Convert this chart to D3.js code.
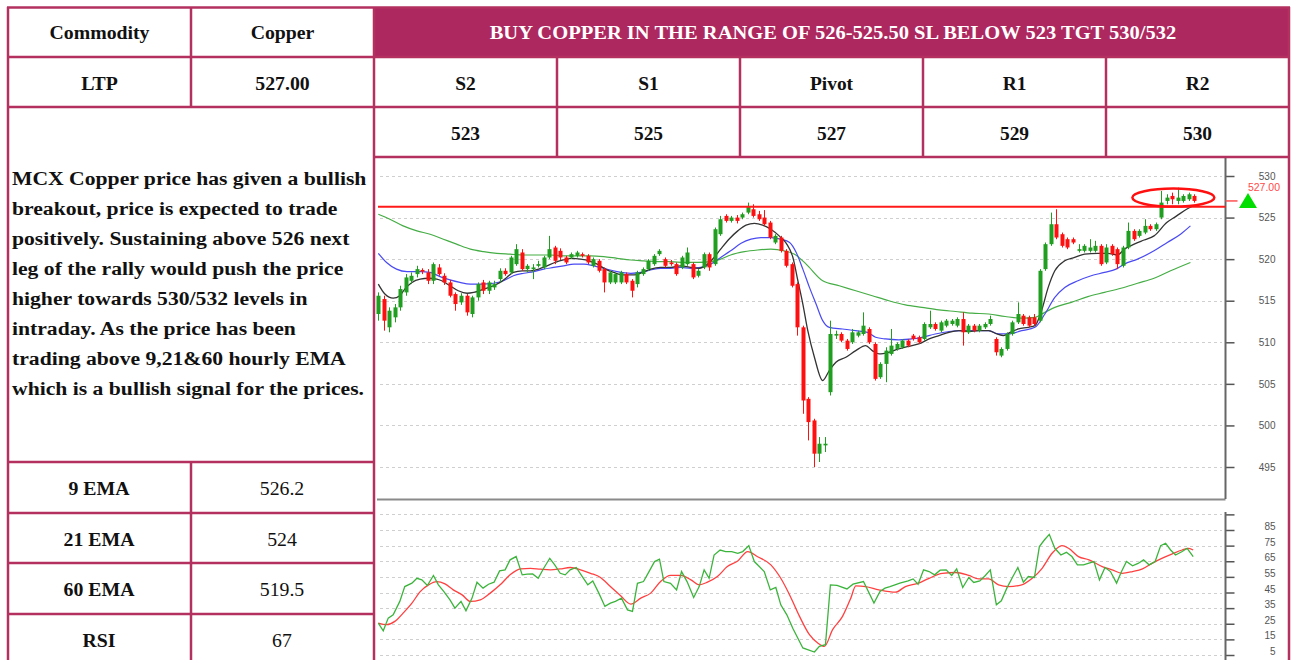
<!DOCTYPE html>
<html>
<head>
<meta charset="utf-8">
<script src="https://cdn.jsdelivr.net/npm/d3@7"></script>
<style>
  body { margin: 0; background: #fff; }
  svg { display: block; }
  .serif { font-family: "Liberation Serif", "DejaVu Serif", serif; fill: #111; }
  .axis text { font-family: "Liberation Sans", Arial, sans-serif; font-size: 10px; fill: #555; }
</style>
</head>
<body>
<div id="chart"></div>
<script>
// ---- table texts ----
const headCells = ["Commodity", "Copper"];
const ltpCells = ["LTP", "527.00"];
const callText = "BUY COPPER IN THE RANGE OF 526-525.50 SL BELOW 523 TGT 530/532";
const levelNames = ["S2", "S1", "Pivot", "R1", "R2"];
const levelValues = ["523", "525", "527", "529", "530"];
const indicatorNames = ["9 EMA", "21 EMA", "60 EMA", "RSI"];
const indicatorValues = ["526.2", "524", "519.5", "67"];
const commentLines = [
    "MCX Copper price has given a bullish",
    "breakout, price is expected to trade",
    "positively. Sustaining above 526 next",
    "leg of the rally would push the price",
    "higher towards 530/532 levels in",
    "intraday. As the price has been",
    "trading above 9,21&60 hourly EMA",
    "which is a bullish signal for the prices."
];

// ---- hourly candles ----
const opens = [513.4,515.2,511.8,513.0,514.2,516.0,517.4,518.2,518.7,518.4,517.4,519.0,518.0,517.2,515.8,514.8,515.6,513.4,515.4,517.2,
    516.2,516.6,517.6,518.6,518.4,519.4,520.8,518.8,518.8,519.2,519.0,520.2,521.4,521.0,520.2,520.2,520.4,520.6,520.4,519.2,
    519.8,518.8,517.2,517.2,517.2,518.2,517.4,517.0,518.2,518.8,519.4,520.6,520.0,519.6,519.4,519.0,519.4,519.4,518.0,519.0,
    520.6,519.4,523.0,525.2,524.6,525.0,525.0,525.6,526.0,525.4,525.0,524.4,522.0,522.6,521.0,519.4,517.0,511.8,503.2,500.6,
    496.6,497.6,504.0,510.8,511.0,510.2,510.0,510.8,511.0,511.6,509.8,505.8,507.4,508.6,509.2,509.4,510.2,510.8,510.6,510.4,
    511.8,512.2,511.4,512.0,512.2,512.0,512.8,511.2,512.0,511.4,511.8,512.2,510.4,508.4,509.2,511.0,512.4,513.2,513.0,513.0,
    512.6,518.8,521.8,524.2,523.0,522.4,522.4,521.0,521.0,521.0,521.0,521.6,519.6,521.6,521.2,519.2,521.4,523.4,522.8,523.2,
    524.0,523.6,525.0,527.0,527.6,527.0,527.0,527.2,527.6];
const highs = [516.0,515.6,514.2,514.6,516.8,518.2,518.4,519.2,518.9,518.8,519.6,519.4,518.3,517.5,516.0,515.9,515.8,515.6,517.2,517.5,
    517.4,517.4,518.9,518.9,520.4,521.8,521.2,519.4,519.4,519.8,520.4,522.8,521.6,521.3,520.4,520.8,521.0,520.8,520.6,520.2,
    520.0,519.0,518.6,518.4,518.6,518.4,517.6,518.6,519.0,520.0,520.6,521.2,520.2,519.9,519.6,520.4,521.4,519.6,518.8,520.8,
    520.8,523.8,525.2,525.4,525.2,525.3,525.6,526.8,526.6,525.8,525.9,524.6,523.0,522.8,521.2,519.6,517.2,512.0,503.4,500.8,
    498.6,498.6,512.6,511.4,511.2,510.4,511.6,511.4,513.6,511.8,510.0,507.6,509.4,511.6,510.0,510.4,510.4,511.0,510.8,512.4,
    513.8,512.4,512.6,512.8,512.8,513.0,513.6,512.2,512.2,512.2,512.4,513.2,510.6,509.4,511.2,512.6,514.8,513.4,513.2,513.4,
    518.8,522.0,525.6,526.0,523.2,522.6,522.6,521.8,521.8,522.4,522.2,521.8,521.8,521.8,521.4,521.6,524.4,523.6,523.6,524.8,
    524.2,524.4,528.2,527.8,528.0,528.6,527.8,528.0,527.8];
const lows = [512.6,511.4,511.2,512.4,513.8,515.6,517.0,517.8,518.2,517.0,517.0,518.0,516.9,515.4,513.8,514.5,513.2,513.0,515.0,515.8,
    515.8,516.3,517.2,518.0,518.2,519.2,518.6,518.4,517.6,519.0,518.8,520.0,519.4,519.9,519.4,520.0,520.2,520.2,519.4,519.0,
    518.4,516.0,517.0,517.0,517.0,517.0,515.4,516.6,518.0,518.6,519.2,520.4,519.0,519.2,518.0,518.8,519.2,517.6,517.8,518.8,
    518.6,519.2,522.8,524.4,524.4,524.3,524.8,525.4,525.0,524.6,524.0,522.4,521.8,520.8,519.0,516.6,510.8,501.4,498.2,495.0,
    495.6,496.8,503.6,510.4,510.0,509.0,509.8,510.6,510.8,509.8,505.4,505.6,505.2,508.4,509.0,509.2,509.4,510.2,509.8,510.2,
    511.6,511.4,511.2,511.8,512.0,511.8,509.6,511.0,511.2,511.2,511.6,512.0,508.4,508.2,509.0,510.8,512.2,512.0,511.8,512.0,
    512.4,518.6,521.6,522.4,521.4,521.2,521.8,520.8,520.8,520.8,520.8,519.2,519.4,520.4,518.8,519.0,521.2,522.2,522.6,523.0,
    523.4,523.4,524.8,526.6,526.6,526.6,526.8,527.0,526.8];
const closes = [515.6,512.6,513.8,514.2,516.4,517.8,518.0,518.8,518.5,517.4,519.4,518.2,517.2,515.6,514.6,515.6,513.6,515.4,517.0,516.2,
    517.2,517.0,518.6,518.2,520.2,521.2,518.8,519.2,519.0,519.4,520.2,521.2,519.8,520.2,519.6,520.6,520.8,520.4,519.6,520.0,
    518.6,517.2,518.4,518.2,518.4,517.2,516.2,518.4,518.8,519.8,520.4,521.0,519.2,519.4,518.2,520.2,520.8,517.8,518.6,520.6,
    519.0,523.6,524.8,524.6,525.0,524.6,525.4,526.4,525.2,524.8,524.2,522.6,522.8,521.0,519.2,516.8,511.8,503.0,500.4,496.6,
    497.8,497.8,511.0,511.0,510.2,509.2,511.2,511.2,512.0,510.0,505.6,507.4,509.0,509.6,509.8,510.2,509.6,510.4,510.0,512.2,
    512.2,511.6,512.4,512.6,512.6,512.8,511.2,512.0,511.4,512.0,512.2,512.8,508.8,509.2,511.0,512.4,513.4,512.2,512.0,512.2,
    518.6,521.8,524.2,522.6,521.6,521.4,522.0,521.2,521.6,521.4,521.6,519.4,521.4,520.6,519.4,521.4,523.4,522.4,523.4,524.0,
    523.6,524.2,526.8,527.4,527.2,527.4,527.6,527.8,527.0];

// ---- moving averages: [candle index, value] ----
const ema9 = [[0,517.0],[1.2,515.8],[2.7,515.3],[3.9,515.6],[4.8,516.4],[6.1,517.2],[7.6,517.6],[9.1,517.7],[10.6,517.6],[11.5,517.4],
    [13,516.8],[14.5,516.2],[16.1,515.9],[17.3,516.0],[19.1,516.4],[20.9,516.8],[22.1,517.2],[23.3,517.8],[24.5,518.4],[26.1,518.6],
    [27.6,518.6],[29.1,518.8],[30.6,519.2],[32.1,519.6],[33.6,519.9],[35.2,520.1],[36.7,520.0],[38.2,519.8],[39.7,519.4],[41.2,518.8],
    [42.7,518.4],[44.5,518.1],[46.4,518.1],[47.9,518.4],[49.4,518.8],[51.2,519.0],[53,519.0],[54.8,519.2],[56.7,519.0],[58.2,518.9],
    [59.7,519.4],[60.9,520.2],[62.1,521.2],[63.6,522.4],[65.2,523.4],[66.7,524.1],[68.2,524.3],[69.7,524.1],[71.2,523.6],[72.7,522.8],
    [74,521.9],[75.2,520.2],[76.1,517.4],[77,514.6],[77.9,511.4],[79.1,508.2],[80.6,505.4],[81.8,506.6],[83,507.6],[84.8,508.2],
    [86.6,509.0],[88.4,509.6],[89.6,509.0],[90.8,508.6],[92.6,508.8],[94.4,509.2],[96.2,509.5],[98,509.8],[99.9,510.4],[101.7,510.8],
    [103.5,511.2],[105.3,511.4],[107.1,511.3],[108.9,511.4],[110.7,511.4],[112.2,511.0],[113.4,510.8],[114.6,511.2],[116.1,511.6],[117.9,511.8],
    [119.1,512.0],[120.3,513.8],[121.5,516.6],[122.7,518.6],[124.5,519.8],[126.3,520.2],[128.1,520.6],[130.5,520.7],[132.3,520.7],[134.1,520.5],
    [135.3,521.2],[137.1,521.8],[138.9,522.3],[140.7,522.8],[143,524.4],[144.8,525.2],[146.6,526.0],[147.8,526.4]];
const ema21 = [[0,520.7],[1.5,519.6],[3.3,518.8],[5.2,518.5],[7.6,518.5],[9.4,518.4],[11.2,517.9],[13,517.5],[14.8,517.2],[16.7,517.0],
    [18.5,517.0],[20.9,517.1],[22.7,517.4],[24.5,518.0],[26.4,518.3],[28.2,518.5],[30,518.8],[31.8,519.0],[33.6,519.2],[35.5,519.4],
    [37.3,519.4],[39.1,519.2],[40.9,518.9],[43.3,518.5],[45.8,518.3],[47.6,518.4],[49.4,518.7],[51.2,518.9],[53,518.9],[54.8,519.0],
    [56.7,518.9],[58.5,519.0],[60.3,519.4],[62.1,520.2],[63.9,521.0],[65.8,521.9],[67.6,522.4],[69.4,522.6],[71.2,522.6],[73,522.4],
    [74.6,522.0],[75.8,520.8],[77,518.8],[78.2,516.6],[79.4,514.6],[80.6,512.6],[81.8,511.8],[84.2,511.6],[86.6,511.4],[88.7,511.2],
    [90.2,510.6],[92,510.4],[94.4,510.3],[96.8,510.4],[98.6,510.6],[101,511.0],[103.5,511.3],[105.9,511.4],[108.3,511.4],[110.7,511.4],
    [112.5,511.0],[114.3,511.0],[116.7,511.4],[119.1,511.8],[120.9,513.4],[122.7,515.4],[124.5,516.6],[126.9,517.4],[129.3,518.0],[131.7,518.4],
    [133.8,518.8],[135.3,519.4],[137.7,520.0],[140.7,521.0],[143.1,522.0],[145.5,523.0],[147.3,524.0]];
const ema60 = [[0,525.4],[2.1,524.8],[4.5,524.0],[7,523.4],[9.4,523.0],[11.8,522.4],[14.2,521.8],[16.7,521.2],[19.1,520.9],[21.5,520.7],
    [23.9,520.6],[26.4,520.5],[28.8,520.5],[31.2,520.5],[33.6,520.4],[36.1,520.4],[38.5,520.4],[40.9,520.3],[43.3,520.1],[45.8,519.9],
    [48.2,519.8],[50.6,519.7],[53,519.7],[55.5,519.6],[57.9,519.6],[60.3,519.7],[62.1,520.0],[63.9,520.5],[66.4,520.9],[68.8,521.1],
    [71.2,521.2],[73.6,521.0],[75.5,520.6],[77.6,519.4],[80.6,517.4],[83.6,516.8],[86.6,516.2],[89.6,515.6],[92.6,515.0],[95.6,514.5],
    [98.6,514.2],[101.7,513.9],[104.7,513.7],[107.7,513.5],[110.7,513.4],[113.7,513.1],[116.7,512.9],[119.1,513.0],[120.9,513.6],[122.7,514.2],
    [125.7,514.8],[128.7,515.5],[131.7,516.0],[134.7,516.5],[137.7,517.1],[140.7,517.7],[143.7,518.6],[147.3,519.6]];

// ---- RSI and its signal line: [candle index, value] ----
const rsi = [[0,25.4],[0.9,20.5],[1.8,28.6],[2.7,30.7],[3.9,39.3],[4.8,48.8],[6.1,51.0],[7,54.1],[7.9,53.1],[8.9,49.5],
    [10,55.9],[10.9,49.9],[11.9,45.6],[13,40.3],[13.9,35.0],[15,39.3],[15.9,33.3],[17,41.4],[17.9,51.6],[19,47.8],
    [20,50.3],[21,51.6],[22,58.8],[23,59.5],[23.9,65.9],[25,68.0],[26.1,56.3],[27,56.7],[28,56.9],[29,54.1],
    [30,60.5],[31.1,66.9],[32,62.7],[33,57.3],[33.9,56.3],[34.8,59.5],[35.9,61.0],[37,55.2],[38,49.9],[38.9,52.4],
    [40,44.6],[41.1,36.1],[42.1,38.2],[43,39.3],[44.1,41.4],[45.2,33.9],[46.1,32.9],[47,50.9],[48.1,52.0],[49.1,58.4],
    [50.1,64.8],[51,66.3],[51.8,52.0],[53,50.9],[54.1,46.7],[55,58.4],[56,52.0],[57.2,41.8],[58.2,48.8],[59.1,59.5],
    [60,54.1],[60.9,69.0],[62,72.2],[63,71.2],[64.1,71.2],[65.2,70.1],[66.1,71.2],[67.2,75.0],[68.2,64.8],[69.1,61.6],
    [70,58.4],[71.1,46.7],[72.1,48.2],[73,37.1],[74.1,30.7],[75.2,22.0],[77,9.5],[79.1,6.9],[80,10.5],[81.1,11.6],
    [82,49.9],[83.2,49.5],[85,47.3],[86.1,50.3],[88,52.0],[89.9,38.2],[91,45.6],[91.9,47.8],[92.8,48.8],[94.6,51.0],
    [96.1,52.4],[97,53.7],[97.9,50.3],[98.9,59.5],[99.9,58.4],[100.9,56.3],[101.9,59.3],[103,59.5],[104,55.9],[104.9,60.1],
    [106,48.2],[107.1,54.6],[108,51.4],[109.1,52.4],[110.1,55.9],[111,59.5],[112.1,37.1],[113,39.7],[114,47.8],[115.1,55.2],
    [116,61.0],[117,51.6],[117.9,55.2],[119,54.6],[119.9,74.4],[120.8,78.6],[121.7,82.2],[122.7,73.3],[123.8,69.0],[124.8,70.7],
    [125.8,68.0],[126.8,62.7],[127.9,62.7],[128.9,63.8],[129.8,64.8],[130.8,53.1],[131.8,61.0],[132.8,58.4],[133.9,51.0],[134.8,58.4],
    [135.7,64.8],[136.8,62.1],[137.8,63.6],[138.8,65.9],[139.8,62.7],[140.9,64.8],[141.9,75.0],[142.8,76.5],[143.7,72.2],[144.6,69.0],
    [145.8,71.2],[146.7,73.3],[147.8,68.0]];
const rsiSignal = [[0,25.4],[1.5,24.4],[3,26.5],[4.5,31.8],[6.1,38.2],[7.6,45.6],[9.1,49.9],[10.6,52.0],[12.1,50.5],[13.6,46.7],
    [15.2,43.5],[16.7,39.3],[18.5,40.3],[20.3,44.6],[22.1,49.9],[23.9,56.3],[25.8,60.1],[27.6,60.5],[29.4,59.9],[31.2,59.5],
    [33,60.1],[34.8,61.0],[36.7,59.5],[38.5,57.3],[40.3,54.6],[42.1,48.8],[43.9,43.1],[45.8,37.6],[47.6,41.4],[49.4,44.6],
    [51.2,52.0],[53,55.9],[54.8,55.9],[56.7,53.1],[58.2,49.9],[59.7,51.6],[61.5,55.2],[63.3,61.6],[65.2,65.2],[67,71.2],
    [68.8,67.9],[71.2,62.7],[73,54.1],[74.8,42.0],[76.4,29.7],[78.2,18.0],[79.7,12.7],[80.9,10.5],[82.4,21.2],[84.2,29.7],
    [85.7,41.4],[86.6,49.3],[88.4,48.8],[90.8,46.7],[93.8,45.2],[95.6,48.8],[98,51.0],[99.9,54.1],[102.3,57.3],[104.7,57.8],
    [107.1,55.9],[108.9,53.7],[110.7,53.7],[112.5,49.9],[114.3,48.8],[116.7,49.9],[118.6,54.1],[120.4,60.5],[122.2,70.1],[124,75.0],
    [125.2,73.3],[127,68.0],[128.9,65.9],[131.3,61.6],[133.1,59.5],[134.9,57.3],[136.8,58.4],[138.6,60.1],[140.4,63.8],[142.2,67.0],
    [144,69.7],[145.8,72.2],[147,73.3],[147.8,72.2]];

const priceTicks = [495, 500, 505, 510, 515, 520, 525, 530];
const rsiTicks = [5, 15, 25, 35, 45, 55, 65, 75, 85, 95];
const ltp = 527.0;
const breakoutLevel = 526.3;

// ---- layout ----
const width = 1291, height = 660;
const BORDER = "#b3305f", BANNER = "#ae2860";
const GREEN = "#1f9e1f", RED = "#ff1010";

const svg = d3.select("#chart").append("svg")
    .attr("width", width)
    .attr("height", height);

svg.append("rect").attr("width", width).attr("height", height).attr("fill", "#fff");

const x = d3.scaleLinear().domain([0, opens.length - 1]).range([378.3, 1194.3]);
const y = d3.scaleLinear().domain([495, 530]).range([467, 176]);
const yRsi = d3.scaleLinear().domain([5, 85]).range([655, 530]);
const axisX = 1225.5;

// gridlines
const grid = svg.append("g").attr("stroke", "#cfcfcf").attr("stroke-dasharray", "3,3");
grid.selectAll(".pg").data(priceTicks).enter().append("line")
    .attr("x1", 380).attr("x2", 1222)
    .attr("y1", d => Math.round(y(d)) + 0.5).attr("y2", d => Math.round(y(d)) + 0.5);
grid.selectAll(".rg").data(rsiTicks).enter().append("line")
    .attr("x1", 380).attr("x2", 1222)
    .attr("y1", d => Math.round(yRsi(d)) + 0.5).attr("y2", d => Math.round(yRsi(d)) + 0.5);

// panel frame
svg.append("line").attr("x1", 377).attr("x2", axisX).attr("y1", 499.5).attr("y2", 499.5)
    .attr("stroke", "#8a8a8a").attr("stroke-width", 2);

// price axis
const priceAxis = svg.append("g").attr("class", "axis")
    .attr("transform", `translate(${axisX},0)`)
    .call(d3.axisRight(y).tickValues(priceTicks).tickSize(9).tickFormat(d3.format("d")));
const rsiAxis = svg.append("g").attr("class", "axis")
    .attr("transform", `translate(${axisX},0)`)
    .call(d3.axisRight(yRsi).tickValues(rsiTicks).tickSize(9).tickFormat(d => d === 95 ? "" : d));
[priceAxis, rsiAxis].forEach(a => {
    a.select(".domain").remove();
    a.selectAll("line").attr("stroke", "#555").attr("stroke-width", 1.5);
    a.selectAll("text").attr("text-anchor", "end").attr("x", 50);
});
rsiAxis.selectAll(".tick text").attr("dy", "-0.05em");
svg.append("line").attr("x1", axisX).attr("x2", axisX).attr("y1", 157).attr("y2", 499)
    .attr("stroke", "#666").attr("stroke-width", 2);
svg.append("line").attr("x1", axisX).attr("x2", axisX).attr("y1", 512).attr("y2", 660)
    .attr("stroke", "#666").attr("stroke-width", 2);

// moving averages
const lineGen = d3.line().x(d => x(d[0])).y(d => y(d[1])).curve(d3.curveMonotoneX);
svg.append("path").datum(ema60).attr("d", lineGen).attr("fill", "none").attr("stroke", "#45ad45").attr("stroke-width", 1.2);
svg.append("path").datum(ema21).attr("d", lineGen).attr("fill", "none").attr("stroke", "#4a4af2").attr("stroke-width", 1.2);
svg.append("path").datum(ema9).attr("d", lineGen).attr("fill", "none").attr("stroke", "#333").attr("stroke-width", 1.3);

// candles
const candles = svg.append("g").selectAll("g").data(opens.map((o, i) => i)).enter().append("g");
candles.append("line")
    .attr("x1", i => Math.round(x(i)) + 0.5).attr("x2", i => Math.round(x(i)) + 0.5)
    .attr("y1", i => y(highs[i])).attr("y2", i => y(lows[i]))
    .attr("stroke", i => closes[i] >= opens[i] ? GREEN : RED).attr("stroke-width", 1);
candles.append("rect")
    .attr("x", i => Math.round(x(i)) - 1.5)
    .attr("width", 4)
    .attr("y", i => y(Math.max(opens[i], closes[i])))
    .attr("height", i => Math.max(1, Math.abs(y(opens[i]) - y(closes[i]))))
    .attr("fill", i => closes[i] >= opens[i] ? GREEN : RED);

// breakout level and last price marker
svg.append("line").attr("x1", 378).attr("x2", axisX).attr("y1", y(breakoutLevel)).attr("y2", y(breakoutLevel))
    .attr("stroke", "#ff1a1a").attr("stroke-width", 2);
svg.append("line").attr("x1", axisX).attr("x2", axisX + 12).attr("y1", y(ltp)).attr("y2", y(ltp))
    .attr("stroke", "#ff5050").attr("stroke-width", 1.5);
svg.append("text").attr("x", 1280).attr("y", y(ltp) - 10)
    .attr("text-anchor", "end")
    .style("font-family", "Liberation Sans, Arial, sans-serif").style("font-size", "10.5px").style("fill", "#ff4a4a")
    .text(ltp.toFixed(2));
svg.append("path")
    .attr("d", `M1248,${y(ltp) - 8} L1257,${y(ltp) + 7} L1239,${y(ltp) + 7} Z`)
    .attr("fill", "#00dd00");
svg.append("ellipse")
    .attr("cx", x(144.2)).attr("cy", y(527.4)).attr("rx", 41).attr("ry", 9)
    .attr("fill", "none").attr("stroke", "#ff1010").attr("stroke-width", 2.5);

// RSI
svg.append("path").datum(rsiSignal)
    .attr("d", d3.line().x(d => x(d[0])).y(d => yRsi(d[1])).curve(d3.curveMonotoneX))
    .attr("fill", "none").attr("stroke", "#ff4040").attr("stroke-width", 1.3);
svg.append("path").datum(rsi)
    .attr("d", d3.line().x(d => x(d[0])).y(d => yRsi(d[1])))
    .attr("fill", "none").attr("stroke", "#3cb43c").attr("stroke-width", 1.3);

// ---- table ----
svg.append("rect").attr("x", 374).attr("y", 7).attr("width", 916).attr("height", 50).attr("fill", BANNER);

const colLeft = [8, 191, 374];
const colLevels = [374, 557, 740, 923, 1106, 1289];

// Book Antiqua is wider than Liberation Serif, so stretch the glyphs a little
function cellText(cx, cy, txt, bold, stretch, color) {
    svg.append("text").attr("class", "serif")
        .attr("transform", `translate(${cx},${cy}) scale(${stretch},1)`)
        .attr("text-anchor", "middle")
        .style("font-weight", bold ? "bold" : "normal")
        .style("font-size", "18px")
        .style("fill", color || "#111")
        .text(txt);
}

headCells.forEach((t, i) => cellText((colLeft[i] + colLeft[i + 1]) / 2, 39, t, true, 1.1));
ltpCells.forEach((t, i) => cellText((colLeft[i] + colLeft[i + 1]) / 2, 90, t, true, 1.1));
cellText(833, 39, callText, true, 1.14, "#fff");
levelNames.forEach((t, i) => cellText((colLevels[i] + colLevels[i + 1]) / 2, 90, t, true, 1.08));
levelValues.forEach((t, i) => cellText((colLevels[i] + colLevels[i + 1]) / 2, 140, t, true, 1.08));
indicatorNames.forEach((t, i) => cellText(99, 495 + i * 50.7, t, true, 1.1));
indicatorValues.forEach((t, i) => cellText(282, 495 + i * 50.7, t, false, 1.1));

svg.append("g").attr("transform", "translate(12,0) scale(1.14,1)")
    .selectAll("text").data(commentLines).enter().append("text")
    .attr("class", "serif")
    .attr("x", 0).attr("y", (d, i) => 185 + i * 30)
    .style("font-weight", "bold").style("font-size", "19px")
    .text(d => d);

const borders = svg.append("g").attr("stroke", BORDER).attr("stroke-width", 2.5);
[[7, 1290, 7.5], [7, 1290, 57], [7, 1290, 107], [374, 1290, 157],
 [7, 374, 462], [7, 374, 513], [7, 374, 563], [7, 374, 614]].forEach(h => {
    borders.append("line").attr("x1", h[0]).attr("x2", h[1]).attr("y1", h[2]).attr("y2", h[2]);
});
[[8, 7, 660], [191, 7, 107], [191, 462, 660], [374, 7, 660], [1289, 7, 660],
 [557, 57, 157], [740, 57, 157], [923, 57, 157], [1106, 57, 157]].forEach(v => {
    borders.append("line").attr("x1", v[0]).attr("x2", v[0]).attr("y1", v[1]).attr("y2", v[2]);
});
</script>
</body>
</html>
